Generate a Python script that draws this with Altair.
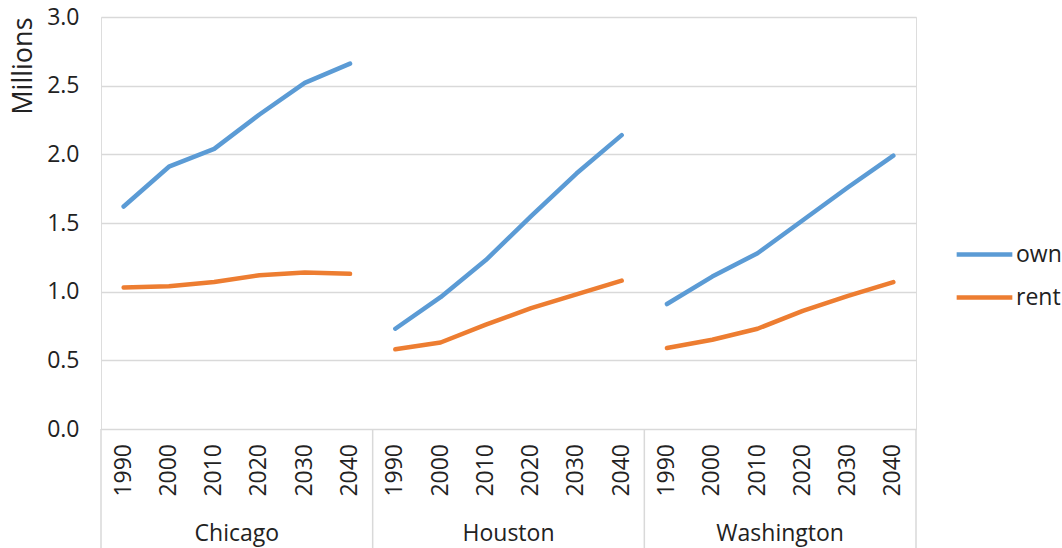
import altair as alt
import pandas as pd

# Households (millions) by tenure, three metro areas, 1990-2040
cities = ["Chicago", "Houston", "Washington"]
years = [1990, 2000, 2010, 2020, 2030, 2040]
series = ["own", "rent"]

chicago_own = [1.62, 1.91, 2.04, 2.29, 2.52, 2.66]
chicago_rent = [1.03, 1.04, 1.07, 1.12, 1.14, 1.13]
houston_own = [0.73, 0.96, 1.23, 1.55, 1.86, 2.14]
houston_rent = [0.58, 0.63, 0.76, 0.88, 0.98, 1.08]
washington_own = [0.91, 1.11, 1.28, 1.52, 1.76, 1.99]
washington_rent = [0.59, 0.65, 0.73, 0.86, 0.97, 1.07]

values = {
    ("Chicago", "own"): chicago_own,
    ("Chicago", "rent"): chicago_rent,
    ("Houston", "own"): houston_own,
    ("Houston", "rent"): houston_rent,
    ("Washington", "own"): washington_own,
    ("Washington", "rent"): washington_rent,
}

W, H = 815, 412
FONT = "Open Sans"
FS = 23
TEXT = "#222222"
GRID = "#d9d9d9"
COLORS = ["#5B9BD5", "#ED7D31"]
n_years = len(years)

# Long table: one row per city / year / tenure; "pos" is the slot on the category axis
rows = []
for ci, city in enumerate(cities):
    for s in series:
        for yi, (yr, v) in enumerate(zip(years, values[(city, s)])):
            rows.append({"city": city, "year": str(yr), "series": s,
                         "pos": ci * n_years + yi, "value": v})
df = pd.DataFrame(rows)

year_labels = pd.DataFrame([{"pos": ci * n_years + yi, "year": str(yr)}
                            for ci in range(len(cities)) for yi, yr in enumerate(years)])
city_labels = pd.DataFrame([{"pos": ci * n_years + (n_years - 1) / 2, "city": c}
                            for ci, c in enumerate(cities)])
separators = pd.DataFrame({"pos": [ci * n_years - 0.5 for ci in range(len(cities) + 1)]})

xscale = alt.Scale(domain=[-0.5, len(cities) * n_years - 0.5], nice=False, zero=False)

lines = alt.Chart(df).mark_line(strokeWidth=4.5, strokeCap="round", strokeJoin="round").encode(
    x=alt.X("pos:Q", scale=xscale, axis=None),
    y=alt.Y("value:Q",
            scale=alt.Scale(domain=[0, 3], nice=False),
            axis=alt.Axis(values=[0, 0.5, 1, 1.5, 2, 2.5, 3], format=".1f",
                          title="Millions", titleFont=FONT, titleFontSize=27,
                          titleFontWeight="normal", titleColor=TEXT, titlePadding=9,
                          titleAnchor="end",
                          labelFont=FONT, labelFontSize=FS, labelColor=TEXT,
                          labelPadding=22, domain=False, ticks=False,
                          grid=True, gridColor=GRID, gridWidth=1.5)),
    color=alt.Color("series:N", scale=alt.Scale(domain=series, range=COLORS),
                    legend=alt.Legend(title=None, orient="none", legendX=853, legendY=207,
                                      symbolType="stroke", symbolSize=3100,
                                      symbolStrokeWidth=4.5, labelFont=FONT,
                                      labelFontSize=FS, labelColor=TEXT,
                                      labelOffset=1, rowPadding=-1)),
    detail="city:N",
)

seps = alt.Chart(separators).mark_rule(color=GRID, strokeWidth=1.5).encode(
    x=alt.X("pos:Q", scale=xscale, axis=None),
    y=alt.value(H),
    y2=alt.value(H + 125),
)

yr_text = alt.Chart(year_labels).mark_text(
    angle=270, align="right", baseline="middle", font=FONT, fontSize=FS, color=TEXT
).encode(
    x=alt.X("pos:Q", scale=xscale, axis=None),
    y=alt.value(H + 15),
    text="year:N",
)

city_text = alt.Chart(city_labels).mark_text(
    align="center", baseline="middle", font=FONT, fontSize=FS, color=TEXT
).encode(
    x=alt.X("pos:Q", scale=xscale, axis=None),
    y=alt.value(H + 105),
    text="city:N",
)

chart = alt.layer(lines, seps, yr_text, city_text).properties(
    width=W, height=H,
    autosize=alt.AutoSizeParams(type="none"),
    padding={"left": 101, "top": 17, "right": 146, "bottom": 119},
).configure_view(stroke=None).configure(background="white")

chart.save("out.html", embed_options={"renderer": "svg", "actions": False})
